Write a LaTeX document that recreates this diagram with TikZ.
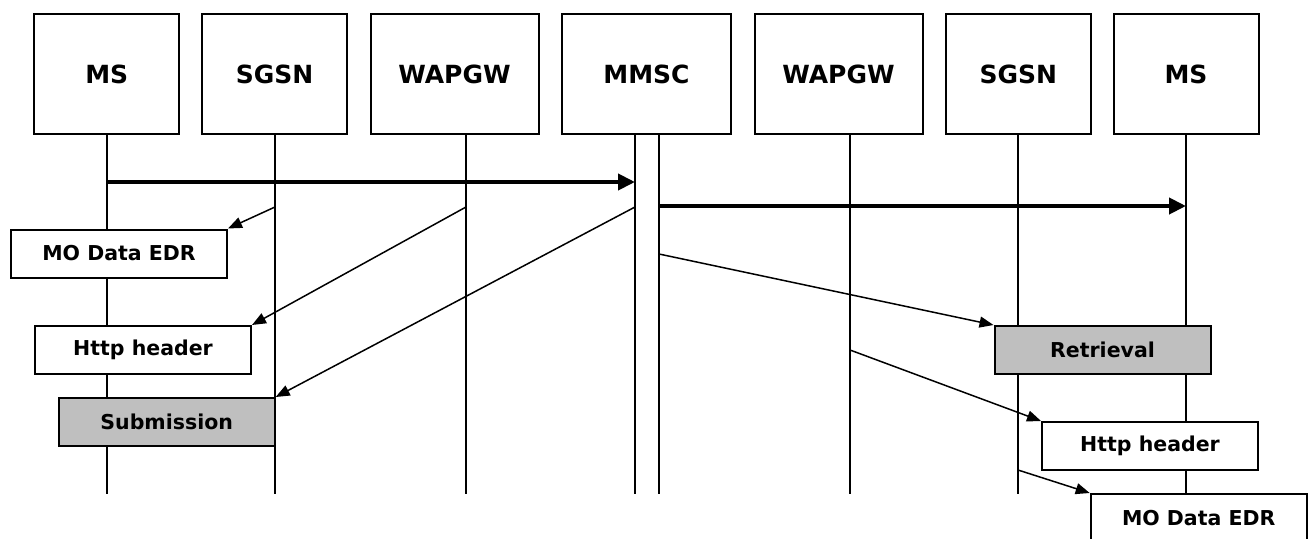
\documentclass[tikz,border=0pt]{standalone}
\usepackage{fontspec}
\setmainfont{DejaVu Sans}
\usetikzlibrary{arrows.meta,positioning}
\tikzset{
    entity/.style={
    rectangle,draw=black,line width=2pt,minimum width=145pt,minimum height=120pt,
    font=\fontsize{25}{30}\selectfont\bfseries
    },
    record/.style={
    rectangle,draw=black,line width=2pt,fill=white,minimum width=216pt,minimum height=48pt,
    font=\fontsize{20.5}{24}\selectfont\bfseries
    },
    chargeable/.style={
    record,fill=black!25
    },
    lifeline/.style={
    line width=1.5pt
    },
    bigmsg/.style={
    line width=4pt,-{Triangle[length=17pt,width=16pt]}
    },
    cdrmsg/.style={
    line width=1.5pt,-{Triangle[length=14pt,width=11pt]}
    },
}
\begin{document}
\begin{tikzpicture}[x=1pt,y=-1pt]
   \useasboundingbox (0,0) rectangle (1311,538);
   % network elements
   \node[entity] (ms1)   at (106.7,74) {MS};
   \node[entity] (sgsn1) at (274.6,74) {SGSN};
   \node[entity,minimum width=168pt] (wap1) at (454.5,74) {WAPGW};
   \node[entity,minimum width=169pt] (mmsc) at (646.5,74) {MMSC};
   \node[entity,minimum width=168pt] (wap2) at (838.5,74) {WAPGW};
   \node[entity] (sgsn2) at (1018.3,74) {SGSN};
   \node[entity] (ms2)   at (1186,74) {MS};

   % where the lifelines stop
   \coordinate (ms1 end)   at (107,494);
   \coordinate (sgsn1 end) at (275,494);
   \coordinate (wap1 end)  at (466,494);
   \coordinate (mmscA end) at (635,494);
   \coordinate (mmscB end) at (659,494);
   \coordinate (wap2 end)  at (850,494);
   \coordinate (sgsn2 end) at (1018,494);
   \coordinate (ms2 end)   at (1186,494);

   \foreach \el/\hd in {ms1/ms1,sgsn1/sgsn1,wap1/wap1,mmscA/mmsc,mmscB/mmsc,wap2/wap2,sgsn2/sgsn2,ms2/ms2}
      \draw[lifeline] (\el\space end |- \hd.south) -- (\el\space end);

   % records written along the way
   \node[record] (edr1)  at (119,253.5) {MO Data EDR};
   \node[record] (http1) at (143,350) {Http header};
   \node[chargeable] (sub) at (166.7,422) {Submission};
   \node[chargeable] (ret) at (1102.5,350) {Retrieval};
   \node[record] (http2) at (1150,446) {Http header};
   \node[record] (edr2)  at (1198.7,518) {MO Data EDR};

   % message flow
   \draw[bigmsg] (ms1 end |- 0,182) -- (mmscA end |- 0,182);
   \draw[bigmsg] (mmscB end |- 0,206) -- (ms2 end |- 0,206);

   \draw[cdrmsg] (sgsn1 end |- 0,207) -- (edr1.north east);
   \draw[cdrmsg] (wap1 end |- 0,207)  -- (http1.north east);
   \draw[cdrmsg] (mmscA end |- 0,207) -- (sub.north east);
   \draw[cdrmsg] (mmscB end |- 0,254) -- (ret.north west);
   \draw[cdrmsg] (wap2 end |- 0,350)  -- (http2.north west);
   \draw[cdrmsg] (sgsn2 end |- 0,470) -- (edr2.north west);
\end{tikzpicture}
\end{document}
